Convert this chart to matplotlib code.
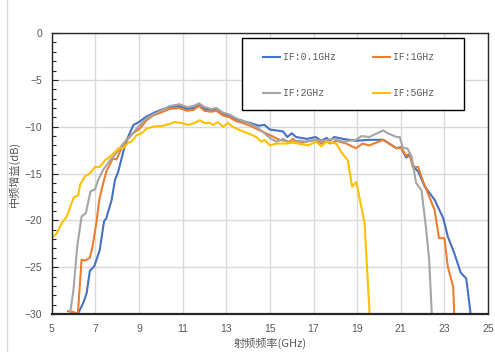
import matplotlib
matplotlib.use("Agg")
import matplotlib.pyplot as plt
from matplotlib.lines import Line2D
from matplotlib.patches import Rectangle
from matplotlib.ticker import MultipleLocator

# ---- data ----
f_if01 = [6.2, 6.45, 6.6, 6.75, 6.95, 7.2, 7.4, 7.5, 7.75, 7.9, 8.05, 8.3, 8.5, 8.75, 9.0, 9.35, 9.7, 10.0,
          10.4, 10.85, 11.2, 11.5, 11.75, 12.0, 12.3, 12.55, 12.85, 13.15, 13.45, 13.75, 14.1, 14.5, 14.75,
          15.0, 15.6, 15.8, 16.0, 16.2, 16.7, 17.1, 17.35, 17.6, 17.75, 17.95, 18.35, 18.95, 19.55, 20.2,
          20.8, 21.0, 21.25, 21.4, 21.6, 21.8, 22.1, 22.55, 22.95, 23.15, 23.45, 23.75, 24.0, 24.2]
g_if01 = [-30, -28.8, -27.8, -25.4, -24.9, -23.2, -20.1, -19.8, -17.8, -15.7, -14.8, -12.5, -11.1, -9.8,
          -9.5, -8.9, -8.5, -8.2, -7.9, -7.8, -8.1, -8.0, -7.6, -8.1, -8.2, -8.2, -8.6, -8.8, -9.2, -9.4,
          -9.6, -9.9, -9.8, -10.3, -10.5, -11.1, -10.7, -11.1, -11.3, -11.1, -11.5, -11.2, -11.5, -11.1,
          -11.3, -11.5, -11.4, -11.4, -12.3, -12.2, -13.3, -13.0, -14.3, -14.8, -16.4, -17.8, -19.8,
          -21.7, -23.5, -25.6, -26.2, -30]

f_if1 = [5.75, 6.0, 6.2, 6.37, 6.52, 6.75, 6.87, 7.06, 7.18, 7.3, 7.5, 7.8, 7.97, 8.2, 8.43, 8.73, 9.04,
         9.35, 9.65, 10.0, 10.4, 10.85, 11.2, 11.5, 11.75, 12.0, 12.3, 12.55, 12.85, 13.15, 13.45, 13.75,
         14.1, 14.5, 15.0, 15.45, 15.9, 16.05, 16.35, 16.65, 17.1, 17.35, 17.6, 17.75, 18.05, 18.5, 18.95,
         19.25, 19.55, 20.2, 20.8, 21.0, 21.25, 21.4, 21.55, 21.8, 22.0, 22.55, 22.75, 23.0, 23.15, 23.4,
         23.45]
g_if1 = [-29.7, -29.8, -30, -24.2, -24.3, -24.0, -22.8, -20.1, -17.8, -16.6, -14.8, -13.4, -13.5, -12.3,
         -11.4, -10.7, -10.2, -9.3, -8.8, -8.5, -8.1, -8.0, -8.3, -8.2, -7.8, -8.3, -8.4, -8.3, -8.8, -9.0,
         -9.4, -9.6, -9.9, -10.35, -10.9, -11.4, -11.6, -11.3, -11.8, -11.6, -11.4, -11.8, -11.5, -11.8,
         -11.5, -11.8, -12.3, -11.8, -12.0, -11.4, -12.3, -12.2, -13.1, -12.9, -14.3, -14.3, -15.7, -18.9,
         -21.9, -21.9, -24.9, -27.1, -30]

f_if2 = [5.84, 6.0, 6.17, 6.37, 6.57, 6.78, 6.98, 7.13, 7.36, 7.67, 7.97, 8.28, 8.58, 8.97, 9.35, 9.65,
         10.0, 10.4, 10.85, 11.2, 11.5, 11.75, 12.0, 12.3, 12.55, 12.85, 13.15, 13.45, 13.75, 14.2, 14.5,
         15.0, 15.3, 15.6, 15.9, 16.35, 16.65, 17.1, 17.4, 17.9, 18.35, 18.95, 19.2, 19.55, 20.2, 20.4,
         20.8, 20.95, 21.1, 21.3, 21.5, 21.7, 21.95, 22.15, 22.3, 22.42]
g_if2 = [-30, -27.4, -22.8, -19.6, -19.2, -16.9, -16.7, -15.7, -14.6, -13.6, -12.8, -11.8, -11.1, -10.0,
         -9.1, -8.7, -8.3, -7.8, -7.6, -7.9, -7.8, -7.5, -7.9, -8.1, -8.0, -8.5, -8.7, -9.1, -9.35, -9.8,
         -10.2, -11.2, -11.6, -11.3, -11.7, -11.5, -11.6, -11.4, -11.5, -11.3, -11.6, -11.4, -11.0, -11.1,
         -10.4, -10.7, -11.1, -11.1, -12.3, -12.3, -13.2, -16.0, -16.8, -20.7, -24.2, -30]

f_if5 = [5.0, 5.23, 5.46, 5.69, 6.0, 6.22, 6.3, 6.52, 6.75, 6.98, 7.21, 7.44, 7.67, 7.9, 8.05, 8.28, 8.5,
         8.66, 8.89, 9.12, 9.35, 9.65, 10.1, 10.4, 10.63, 10.94, 11.25, 11.56, 11.79, 12.0, 12.25, 12.4,
         12.62, 12.85, 13.08, 13.3, 13.6, 14.0, 14.38, 14.61, 14.76, 15.0, 15.3, 15.76, 16.06, 16.44,
         16.75, 17.13, 17.36, 17.59, 17.82, 18.04, 18.27, 18.57, 18.77, 18.96, 19.34, 19.57]
g_if5 = [-21.9, -21.4, -20.3, -19.6, -17.6, -17.3, -16.2, -15.3, -15.0, -14.3, -14.3, -13.6, -13.2, -12.7,
         -12.3, -12.3, -11.7, -11.6, -10.9, -10.7, -10.2, -10.0, -9.9, -9.7, -9.5, -9.6, -9.8, -9.6, -9.3,
         -9.6, -9.6, -9.8, -9.5, -10.0, -9.6, -10.0, -10.35, -10.7, -11.1, -11.6, -11.4, -12.0, -11.8,
         -11.8, -11.7, -11.85, -12.0, -11.6, -12.1, -11.6, -11.7, -11.8, -12.7, -13.6, -16.4, -15.9,
         -20.3, -30]

labels = ["IF:0.1GHz", "IF:1GHz", "IF:2GHz", "IF:5GHz"]
colors = ["#4472C4", "#ED7D31", "#A5A5A5", "#FFC000"]
x_ticks = [5, 7, 9, 11, 13, 15, 17, 19, 21, 23, 25]
y_ticks = [0, -5, -10, -15, -20, -25, -30]
xlabel = "射频频率(GHz)"
ylabel = "中频增益(dB)"

# ---- plot ----
fig = plt.figure(figsize=(4.95, 3.52), dpi=100)
ax = fig.add_axes([0.1044, 0.108, 0.8816, 0.798])

series = [(f_if01, g_if01), (f_if1, g_if1), (f_if2, g_if2), (f_if5, g_if5)]
handles = []
for (fx, gy), lab, c in zip(series, labels, colors):
    h, = ax.plot(fx, gy, color=c, lw=1.5, label=lab, solid_joinstyle="round")
    handles.append(h)

ax.set_xlim(5, 25)
ax.set_ylim(-30, 0)
ax.set_xticks(x_ticks)
ax.set_yticks(y_ticks)
ax.yaxis.set_minor_locator(MultipleLocator(1))
ax.grid(True, which="major", color="#d9d9d9", lw=1.0)
ax.set_axisbelow(True)

for lbl in ax.get_xticklabels() + ax.get_yticklabels():
    lbl.set_fontfamily(["Liberation Sans", "DejaVu Sans"])
    lbl.set_fontsize(7.5)
    lbl.set_color("#595959")
ax.tick_params(axis="x", length=0, pad=7)
ax.tick_params(axis="y", which="major", direction="in", length=4, width=0.8, color="#262626", pad=7)
ax.tick_params(axis="y", which="minor", direction="in", length=3, width=0.8, color="#262626")

for side in ["top", "right", "left"]:
    ax.spines[side].set_color("#262626")
    ax.spines[side].set_linewidth(1.0)
ax.spines["bottom"].set_color("#262626")
ax.spines["bottom"].set_linewidth(1.6)

cjk = ["Noto Sans CJK SC", "DejaVu Sans"]
ax.set_xlabel(xlabel, family=cjk, fontsize=8, color="#595959", labelpad=3)
ax.set_ylabel(ylabel, family=cjk, fontsize=8, color="#595959", labelpad=3)

# legend box
ax.add_patch(Rectangle((0.436, 0.726), 0.509, 0.256, transform=ax.transAxes,
                       facecolor="white", edgecolor="#000000", lw=1.0, zorder=4))
order = [0, 2, 1, 3]
leg = ax.legend([handles[i] for i in order], [labels[i] for i in order],
                loc="upper left", bbox_to_anchor=(0.484, 0.933),
                ncol=2, frameon=False,
                prop={"family": ["Liberation Mono", "DejaVu Sans Mono"], "size": 7},
                handlelength=1.75, handletextpad=0.3, labelspacing=2.7, borderpad=0,
                borderaxespad=0, columnspacing=3.8)
leg.set_zorder(5)
for t in leg.get_texts():
    t.set_color("#595959")

fig.add_artist(Line2D([7.3 / 495, 7.3 / 495], [0, 1], transform=fig.transFigure,
                      color="#d9d9d9", lw=1.0))

fig.savefig("out.png", dpi=100)
